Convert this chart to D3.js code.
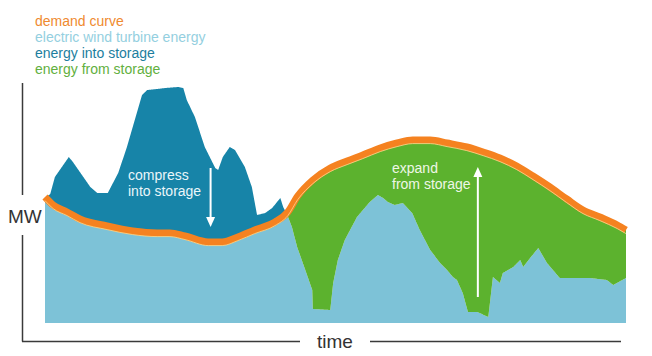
<!DOCTYPE html>
<html><head><meta charset="utf-8">
<script src="https://cdn.jsdelivr.net/npm/d3@7"></script>
<style>
html,body{margin:0;padding:0;background:#fff;}
svg{display:block;font-family:"Liberation Sans",Arial,Helvetica,sans-serif;}
</style></head>
<body><svg id="c" width="652" height="356"></svg>
<script>
// ---- data (time in % of period, power in MW units) ----
const legendLabels = ["demand curve","electric wind turbine energy","energy into storage","energy from storage"];
const demandT  = [0,1.4,3.8,6.0,10.7,15.1,19.3,21.5,24.1,28.1,30.5,33.2,36.1,39.6,41.8,43.5,46.1,49.1,52.0,54.7,57.7,60.6,63.3,66.3,69.2,72.6,75.4,78.3,81.2,84.0,86.9,89.8,92.6,95.5,98.5,100];
const demandMW = [63,59,55.5,52,48.5,46,45,45,43.5,40.5,40.5,43,46.5,50.5,55.5,63.5,71.5,77.5,81,84,87.5,90,91.5,91.5,90,88,85.5,82.5,78.5,73.5,68,62,56.5,53,49,46.5];
const windT  = [0,0.9,1.7,4.1,4.8,7.8,9.0,10.8,12.6,14.1,15.8,16.7,17.6,19.3,20.7,22.9,23.8,24.4,25.8,27.5,29.3,29.8,30.6,31.8,32.7,34.4,35.6,36.5,37.9,39.1,40.5,41.0,41.7,42.5,43.4,44.8,46.0,46.1,49.1,49.6,50.4,51.6,53.7,55.9,57.3,58.2,59.0,60.2,61.6,63.2,64.5,66.3,68.0,69.2,70.2,70.9,71.9,72.8,74.4,76.3,77.1,78.3,78.8,80.6,81.8,82.3,83.5,84.9,86.4,88.6,90.9,93.8,96.7,97.8,100];
const windMW = [62.5,64.5,73,83,80.5,68,65,65,75,88,105,114,116.5,117,117.5,118,117.5,111.5,103,88,77.5,76.5,83,88,86.5,78,68,54,55,57.5,62.5,58,54,48,38,26.5,16.5,7,6.5,20,31.5,41.5,53,60.5,64,62.5,60.5,59,60,55,46.5,36.5,30,26.5,23,21.5,15,5.5,5.5,3,23,20,25,28,31.5,28,32.5,37.5,30,22.5,22.5,22.5,21.5,19,22.5];
// annotation arrows: [time, fromMW, toMW]
const compressArrow = [28.5, 77.5, 48];
const expandArrow   = [74.5, 13, 78];

// ---- styles ----
const C = {
  light:"#7DC2D7", teal:"#1784A8", green:"#5CB22E", orange:"#F58220",
  legend:["#EF8A2F","#94CFE0","#1C7E9E","#62B040"], axis:"#3a3a3a"
};

const svg = d3.select("#c");
const x = d3.scaleLinear().domain([0,100]).range([45,626]);
const y = d3.scaleLinear().domain([0,120]).range([323,83]);

const dI = d3.scaleLinear().domain(demandT).range(demandMW);
const wI = d3.scaleLinear().domain(windT).range(windMW);
const grid = Array.from(new Set([...d3.range(0,100.0001,0.1).map(v=>+v.toFixed(2)), ...demandT, ...windT])).sort((a,b)=>a-b);
const rows = grid.map(t => ({t, d:dI(t), w:wI(t)}));

const area = (lo,hi) => d3.area().x(r=>x(r.t)).y0(r=>y(lo(r))).y1(r=>y(hi(r)));
svg.append("path").datum(rows).attr("fill",C.light)
  .attr("d", area(()=>0, r=>Math.min(r.w,r.d)));
svg.append("path").datum(rows).attr("fill",C.teal)
  .attr("d", area(r=>r.d, r=>Math.max(r.w,r.d)));
svg.append("path").datum(rows).attr("fill",C.green)
  .attr("d", area(r=>Math.min(r.w,r.d), r=>r.d));

const demandPts = d3.zip(demandT, demandMW);
const dl = d3.line().x(p=>x(p[0])).y(p=>y(p[1])).curve(d3.curveMonotoneX);
svg.append("path").datum(demandPts).attr("d",dl).attr("fill","none")
  .attr("stroke",C.orange).attr("stroke-width",7).attr("stroke-linejoin","round");
svg.append("path").datum(demandPts).attr("d",dl).attr("fill","none")
  .attr("transform","translate(0,3.6)")
  .attr("stroke","#F9D58A").attr("stroke-width",1).attr("opacity",0.85);

// arrows
function arrow(a, col){
  const xx = x(a[0]), y0 = y(a[1]), y1 = y(a[2]);
  const dir = y1 > y0 ? 1 : -1, hl = 10, hw = 4.5;
  svg.append("line").attr("x1",xx).attr("x2",xx).attr("y1",y0).attr("y2",y1 - dir*hl+dir)
    .attr("stroke",col).attr("stroke-width",2);
  svg.append("path").attr("fill",col)
    .attr("d",`M${xx},${y1}L${xx-hw},${y1-dir*hl}L${xx+hw},${y1-dir*hl}Z`);
}
arrow(compressArrow,"#ffffff");
arrow(expandArrow,"#ffffff");

const txt = (s,xx,yy,col,size)=>svg.append("text").attr("x",xx).attr("y",yy)
  .attr("fill",col).attr("font-size",size).text(s);
txt("compress",128,180,"#EAF6FA",14);
txt("into storage",128,196,"#EAF6FA",14);
txt("expand",392,173,"#EEF7E6",14);
txt("from storage",392,189,"#EEF7E6",14);

// legend
legendLabels.forEach((s,i)=>txt(s,35,26+i*16,C.legend[i],14));

// axes (frame lines with labels)
const ax = svg.append("g").attr("stroke",C.axis).attr("stroke-width",1.5);
ax.append("line").attr("x1",22.5).attr("x2",22.5).attr("y1",y(120)).attr("y2",195);
ax.append("line").attr("x1",22.5).attr("x2",22.5).attr("y1",235).attr("y2",341.5);
ax.append("line").attr("x1",22).attr("x2",300).attr("y1",341.5).attr("y2",341.5);
ax.append("line").attr("x1",370).attr("x2",621).attr("y1",341.5).attr("y2",341.5);
txt("MW",8,223,"#333",19);
txt("time",317,348,"#333",19);
</script></body></html>
